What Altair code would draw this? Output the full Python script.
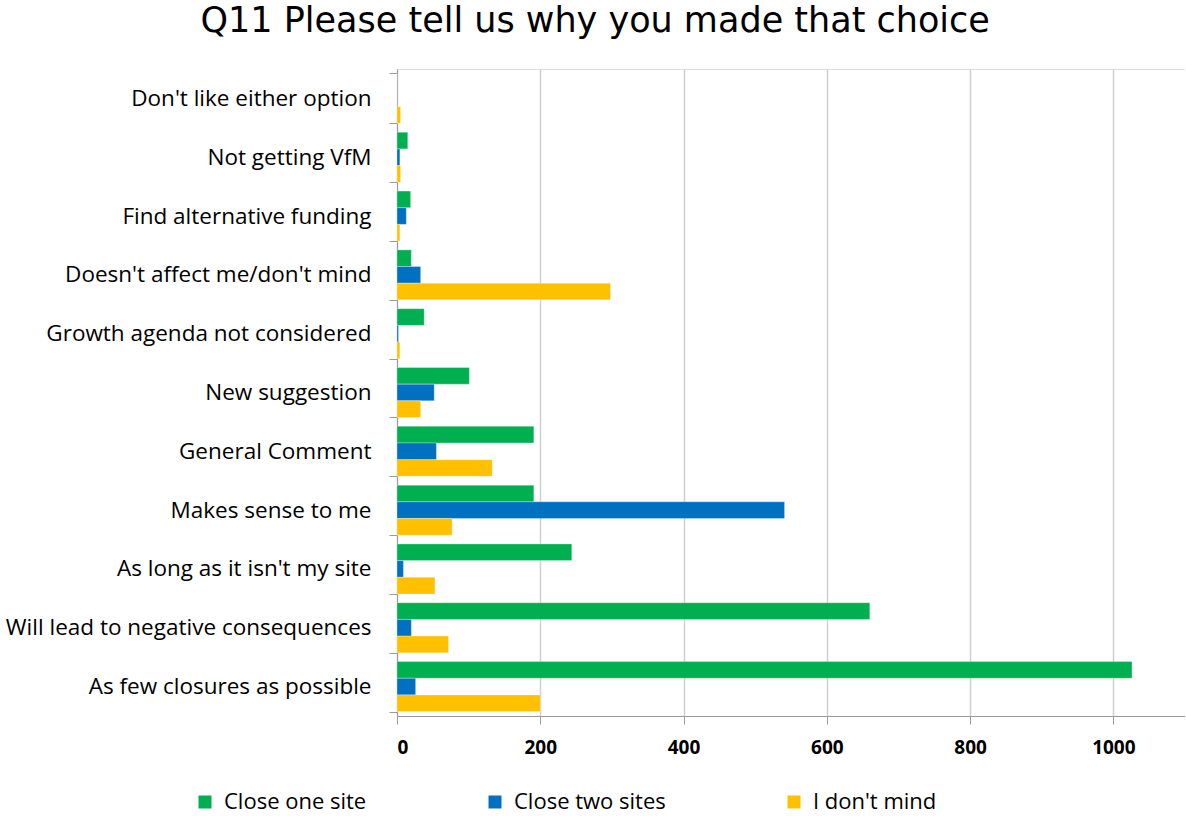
import altair as alt
import pandas as pd

categories = [
    "Don't like either option",
    "Not getting VfM",
    "Find alternative funding",
    "Doesn't affect me/don't mind",
    "Growth agenda not considered",
    "New suggestion",
    "General Comment",
    "Makes sense to me",
    "As long as it isn't my site",
    "Will lead to negative consequences",
    "As few closures as possible",
]
series = ["Close one site", "Close two sites", "I don't mind"]
close_one = [0, 15, 19, 20, 38, 101, 191, 191, 244, 660, 1026]
close_two = [0, 4, 13, 33, 2, 52, 55, 541, 9, 20, 26]
dont_mind = [5, 5, 4, 298, 4, 33, 133, 77, 53, 72, 200]
colors = ["#00B050", "#0070C0", "#FFC000"]
x_ticks = [0, 200, 400, 600, 800, 1000]

rows = []
for i, c in enumerate(categories):
    for s, vals in zip(series, [close_one, close_two, dont_mind]):
        rows.append({"category": c, "series": s, "value": vals[i]})
df = pd.DataFrame(rows)

label_font = "Open Sans"

chart = alt.Chart(df).mark_bar(stroke="white", strokeWidth=0.5, strokeOpacity=0.6).encode(
    y=alt.Y("category:N", sort=categories, title=None,
            scale=alt.Scale(paddingInner=0.15, paddingOuter=0.075),
            axis=alt.Axis(tickBand="extent", tickSize=8, tickColor="#9a9a9a",
                          domainColor="#9a9a9a", labelPadding=18, labelFontSize=22.5,
                          labelFont=label_font, labelColor="black", labelLimit=420,
                          grid=False)),
    yOffset=alt.YOffset("series:N", sort=series, scale=alt.Scale(paddingInner=0, paddingOuter=0)),
    x=alt.X("value:Q", title=None,
            scale=alt.Scale(domain=[0, 1100], nice=False),
            axis=alt.Axis(values=x_ticks, format="d", tickSize=8, tickColor="#9a9a9a",
                          domainColor="#9a9a9a", gridColor="#d0d0d0", gridWidth=1.5,
                          labelPadding=14, labelFontSize=19, labelFont=label_font,
                          labelFontWeight="bold", labelColor="black")),
    color=alt.Color("series:N", sort=series,
                    scale=alt.Scale(domain=series, range=colors),
                    legend=alt.Legend(title=None, orient="none", direction="horizontal",
                                      legendX=-205, legendY=720, symbolType="square",
                                      symbolSize=169, symbolStrokeWidth=0,
                                      labelFontSize=22, labelFont=label_font,
                                      labelColor="black", labelLimit=400,
                                      labelBaseline="middle",
                                      columnPadding=117,
                                      symbolOffset=0, labelOffset=8, padding=2)),
).properties(
    width=788,
    height=647,
    title=alt.TitleParams("Q11 Please tell us why you made that choice",
                          font="DejaVu Sans", fontSize=35, fontWeight="normal",
                          anchor="middle", frame="bounds", color="black", offset=19),
    padding={"left": 5, "top": 4, "right": 0, "bottom": 4},
).configure_view(stroke="#d0d0d0", strokeWidth=1.5).configure(background="white")

chart.save("out.html", embed_options={"renderer": "svg", "actions": False})
